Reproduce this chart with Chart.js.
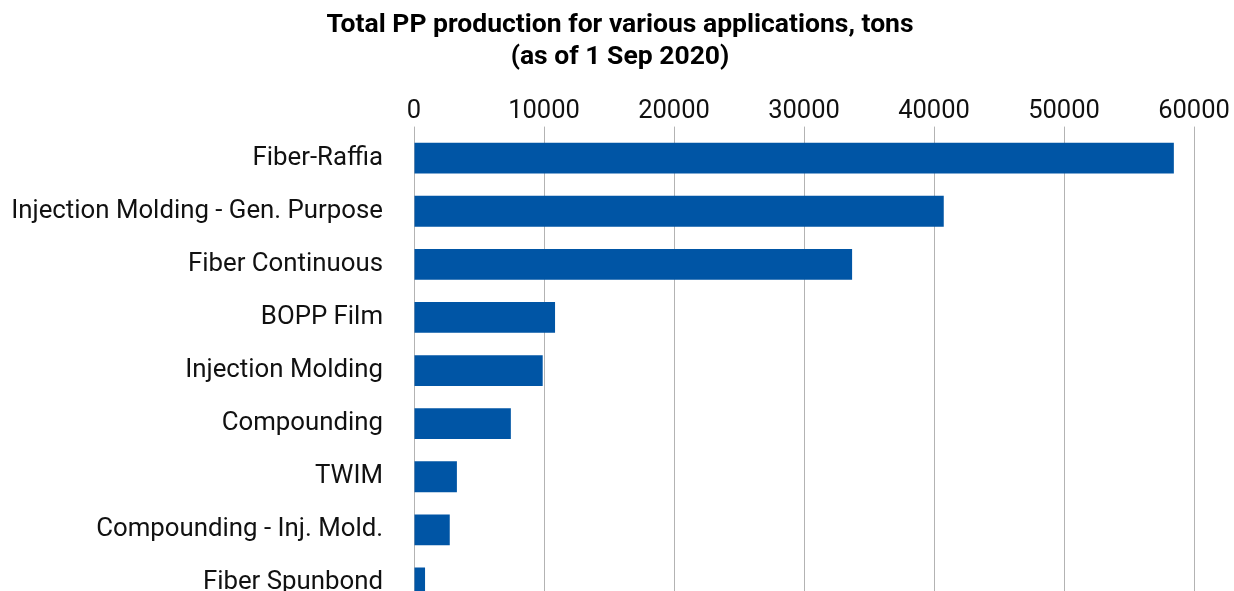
<!DOCTYPE html>
<html><head><meta charset="utf-8">
<script src="https://cdn.jsdelivr.net/npm/chart.js@4"></script>
<style>html,body{margin:0;padding:0;background:#fff;overflow:hidden}#wrap{width:1234px;height:591px;overflow:hidden;position:relative}</style>
</head><body><div id="wrap"><canvas id="c" width="1234" height="656"></canvas></div>
<script>
const categories = ["Fiber-Raffia","Injection Molding - Gen. Purpose","Fiber Continuous","BOPP Film","Injection Molding","Compounding","TWIM","Compounding - Inj. Mold.","Fiber Spunbond"];
const production = [58450, 40750, 33700, 10850, 9900, 7450, 3300, 2750, 850];
const tickValues = [0, 10000, 20000, 30000, 40000, 50000, 60000];
const titleLines = ["Total PP production for various applications, tons","(as of 1 Sep 2020)"];
const FONT = "Roboto, 'Liberation Sans', sans-serif";
const titlePlugin = {
  id: 'centerTitle',
  afterDraw(chart) {
    const ctx = chart.ctx;
    ctx.save();
    ctx.font = "bold 26.5px " + FONT;
    ctx.fillStyle = '#000';
    ctx.textAlign = 'center';
    ctx.textBaseline = 'middle';
    ctx.fillText(titleLines[0], 620, 25);
    ctx.fillText(titleLines[1], 620, 57);
    ctx.restore();
  }
};
new Chart(document.getElementById('c'), {
  type: 'bar',
  data: { labels: categories, datasets: [{ data: production, backgroundColor: '#0055A5', barPercentage: 0.58, categoryPercentage: 1.0 }] },
  options: {
    indexAxis: 'y', responsive: false, animation: false,
    layout: { padding: { left: 0, right: 40, top: 96, bottom: 14 } },
    plugins: { legend: { display: false }, tooltip: { enabled: false }, title: { display: false } },
    scales: {
      x: { position: 'top', min: tickValues[0], max: tickValues[tickValues.length - 1],
        afterBuildTicks: (s) => { s.ticks = tickValues.map(v => ({ value: v })); },
        ticks: { color: '#111', font: { family: FONT, size: 25.5 }, padding: 0, maxRotation: 0, callback: (v) => String(v) },
        grid: { color: '#b3b3b3', lineWidth: 1, tickLength: 5 },
        border: { display: false } },
      y: { ticks: { color: '#111', font: { family: FONT, size: 25.8 }, padding: 31 },
        grid: { display: false, drawTicks: false },
        border: { display: true, color: '#b3b3b3', width: 1 },
        afterFit: (s) => { s.width = 414; } }
    }
  },
  plugins: [titlePlugin]
});
</script></body></html>
